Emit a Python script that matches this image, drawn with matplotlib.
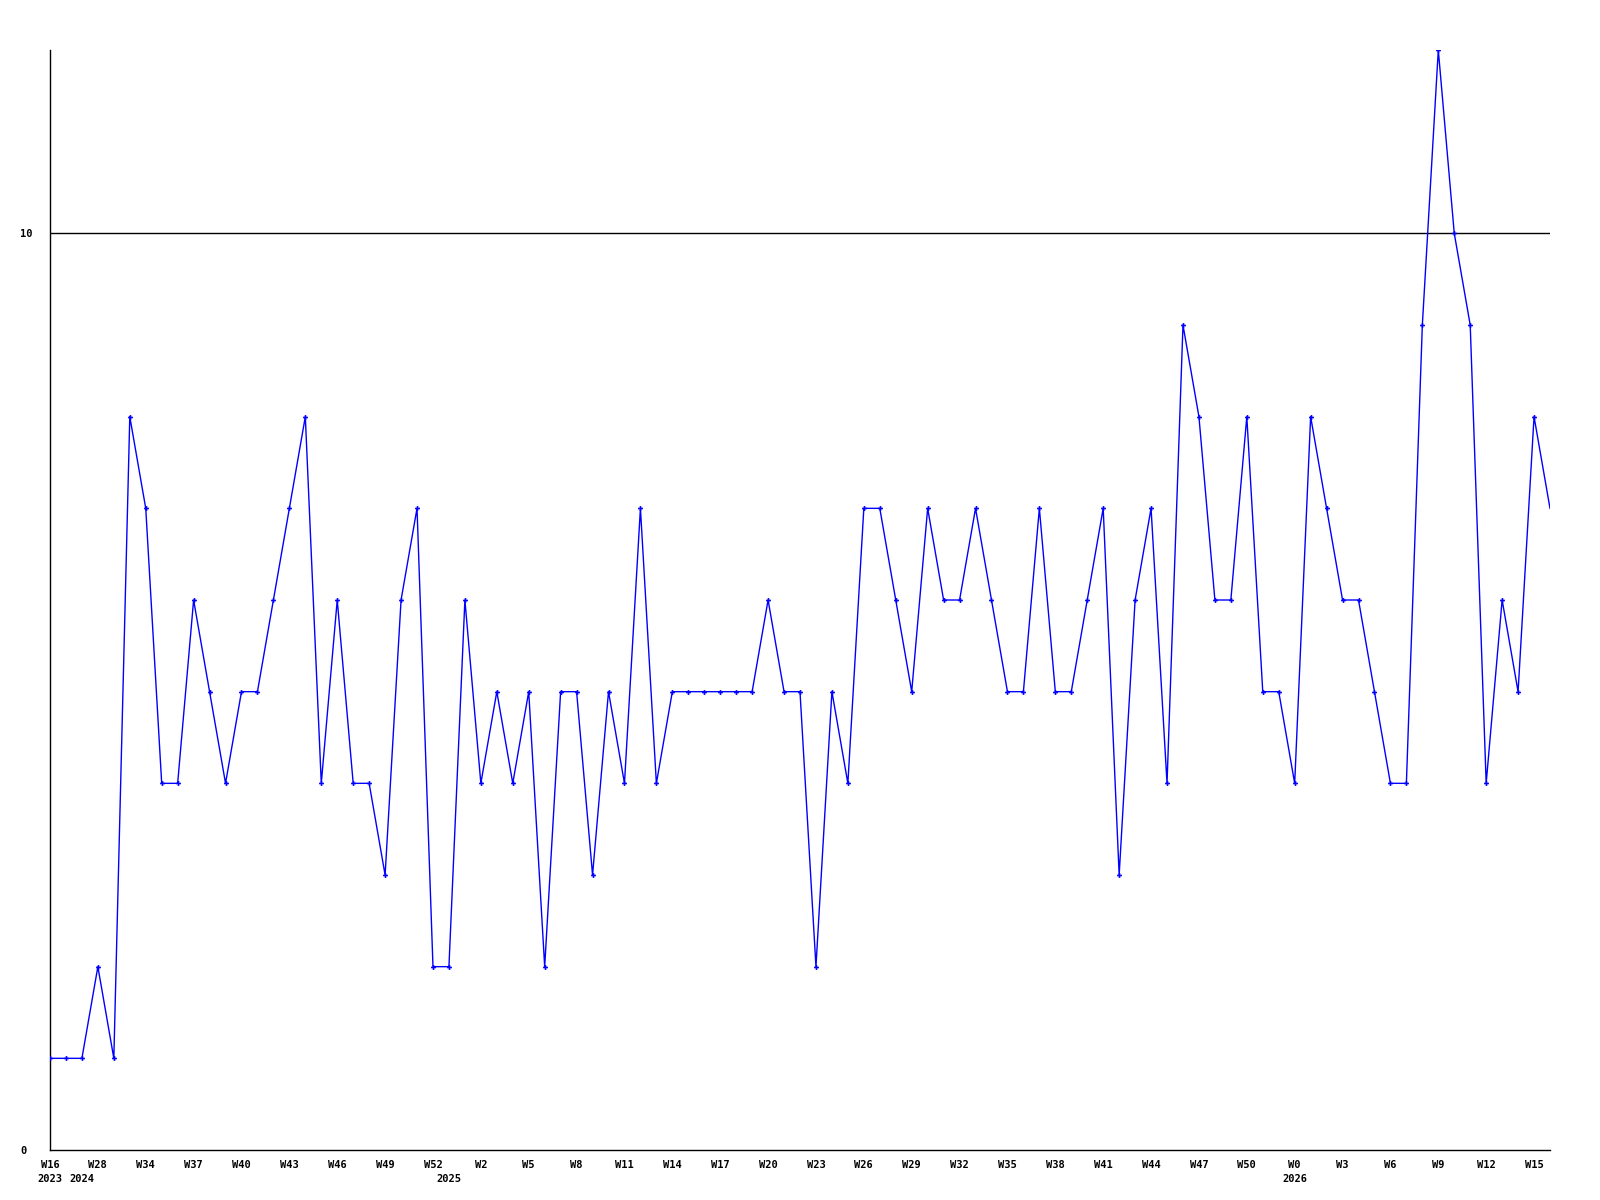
import matplotlib
matplotlib.use("Agg")
import matplotlib.pyplot as plt

values = [1, 1, 1, 2, 1, 8, 7, 4, 4, 6, 5, 4, 5, 5, 6, 7, 8, 4, 6, 4,
          4, 3, 6, 7, 2, 2, 6, 4, 5, 4, 5, 2, 5, 5, 3, 5, 4, 7, 4, 5,
          5, 5, 5, 5, 5, 6, 5, 5, 2, 5, 4, 7, 7, 6, 5, 7, 6, 6, 7, 6,
          5, 5, 7, 5, 5, 6, 7, 3, 6, 7, 4, 9, 8, 6, 6, 8, 5, 5, 4, 8,
          7, 6, 6, 5, 4, 4, 9, 12, 10, 9, 4, 6, 5, 8, 7]

week_labels = ["W16", "W28", "W34", "W37", "W40", "W43", "W46", "W49", "W52",
               "W2", "W5", "W8", "W11", "W14", "W17", "W20", "W23", "W26",
               "W29", "W32", "W35", "W38", "W41", "W44", "W47", "W50", "W0",
               "W3", "W6", "W9", "W12", "W15"]
year_labels = ["2023", "2024", "2025", "2026"]
year_positions = [0, 2, 25, 78]

font = dict(family="DejaVu Sans Mono", fontweight="bold", fontsize=7.5)

fig = plt.figure(figsize=(16, 12), dpi=100)
ax = fig.add_axes([50 / 1600, 1 - 1150 / 1200, 1500 / 1600, 1100 / 1200])

x = list(range(len(values)))
ax.plot(x, values, color="#0000ff", linewidth=1.0, marker="P", markersize=3.5,
        markeredgewidth=0, markevery=list(range(len(values) - 1)), zorder=3)

ax.axhline(10, color="black", linewidth=1.0, zorder=2)

ax.set_xlim(0, len(values) - 1)
ax.set_ylim(0, 12)

for s in ["top", "right"]:
    ax.spines[s].set_visible(False)
for s in ["left", "bottom"]:
    ax.spines[s].set_linewidth(1.0)
    ax.spines[s].set_color("black")

ax.set_yticks([0, 10])
ax.set_yticklabels(["0", "10"], **font)
for t in ax.get_yticklabels():
    t.set_horizontalalignment("left")
ax.tick_params(axis="y", length=0, pad=21.6)

ticks = list(range(0, 3 * len(week_labels), 3))
ax.set_xticks(ticks)
ax.set_xticklabels(week_labels, **font)
ax.tick_params(axis="x", length=0, pad=7)

year_y = -(1179 - 1150) / 1100
for lbl, pos in zip(year_labels, year_positions):
    ax.text(pos, year_y, lbl, ha="center", va="center",
            transform=ax.get_xaxis_transform(), **font)

fig.savefig("out.png", dpi=100, facecolor="white")
